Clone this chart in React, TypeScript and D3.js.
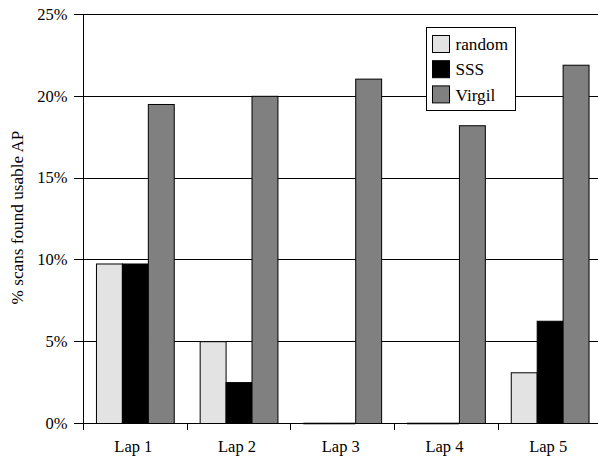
import React from "react";
import * as d3 from "d3";

const laps = ["Lap 1", "Lap 2", "Lap 3", "Lap 4", "Lap 5"];
const seriesNames = ["random", "SSS", "Virgil"];
const randomVals = [9.75, 5.0, 0, 0, 3.1];
const sssVals = [9.75, 2.5, 0, 0, 6.25];
const virgilVals = [19.5, 20.0, 21.05, 18.2, 21.9];
const colors = ["#e3e3e3", "#000000", "#808080"];
const yTicks = [0, 5, 10, 15, 20, 25];

export default function App() {
  const W = 598, H = 460;
  const left = 83, right = 601.5, top = 14, bottom = 423;
  const x0 = d3.scaleBand<string>().domain(laps).range([left, right]).padding(0);
  const x1 = d3.scaleBand<string>().domain(seriesNames).range([0, x0.bandwidth()]).paddingInner(0).paddingOuter(0.5);
  const y = d3.scaleLinear().domain([0, 25]).range([bottom, top]);
  const data = [randomVals, sssVals, virgilVals];
  const font = "'Liberation Serif', 'Times New Roman', serif";

  return (
    <svg width={W} height={H} style={{ position: "absolute", left: 0, top: 0, background: "#fff" }} fontFamily={font}>
      {yTicks.map((t) => (
        <g key={t}>
          {t > 0 && <line x1={left} x2={W} y1={Math.round(y(t)) + 0.5} y2={Math.round(y(t)) + 0.5} stroke="#000" strokeWidth={1} />}
          <line x1={left - 9} x2={left} y1={Math.round(y(t)) + 0.5} y2={Math.round(y(t)) + 0.5} stroke="#000" />
          <text x={67.5} y={y(t) + 5.8} textAnchor="end" fontSize={16.5}>{t}%</text>
        </g>
      ))}
      {laps.map((lap, i) =>
        data.map((vals, s) => {
          const bx = (x0(lap) as number) + (x1(seriesNames[s]) as number);
          const by = y(vals[i]);
          if (vals[i] === 0) {
            return <line key={lap + s} x1={bx} x2={bx + x1.bandwidth()} y1={bottom + 0.5} y2={bottom + 0.5} stroke="#000" strokeWidth={1.6} />;
          }
          return (
            <rect key={lap + s} x={bx + 0.5} y={by + 0.5} width={x1.bandwidth()} height={Math.max(0, bottom - by)}
              fill={colors[s]} stroke="#000" strokeWidth={1} />
          );
        })
      )}
      <line x1={left + 0.5} x2={left + 0.5} y1={top} y2={bottom + 0.5} stroke="#000" />
      <line x1={left} x2={W} y1={bottom + 0.5} y2={bottom + 0.5} stroke="#000" />
      {laps.map((lap) => (
        <g key={lap}>
          <line x1={Math.round(x0(lap) as number) + 0.5} x2={Math.round(x0(lap) as number) + 0.5} y1={bottom} y2={bottom + 7} stroke="#000" />
          <text x={(x0(lap) as number) + x0.bandwidth() / 2 - 1.5} y={452.3} textAnchor="middle" fontSize={16.5}>{lap}</text>
        </g>
      ))}
      <text transform={`translate(23,${(top + bottom) / 2 - 1}) rotate(-90)`} textAnchor="middle" fontSize={17.2}>% scans found usable AP</text>
      <g>
        <rect x={426.5} y={27.5} width={89} height={83} fill="#fff" stroke="#000" />
        {seriesNames.map((n, s) => (
          <g key={n}>
            <rect x={432.5} y={35.5 + s * 25.2} width={17} height={17} fill={colors[s]} stroke="#000" />
            <text x={455.5} y={49.5 + s * 25.7} fontSize={17.2}>{n}</text>
          </g>
        ))}
      </g>
    </svg>
  );
}
